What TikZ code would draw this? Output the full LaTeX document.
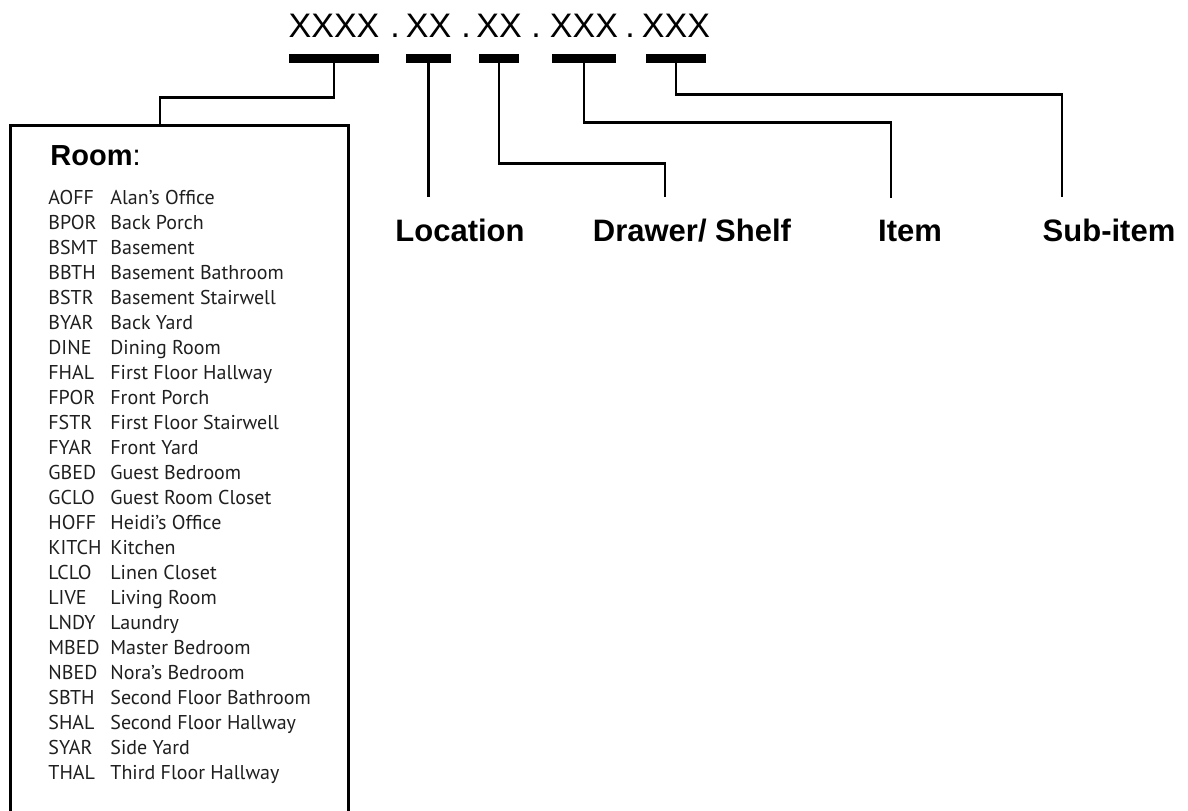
\documentclass[tikz,border=0pt]{standalone}
\usepackage{fontspec}
\setmainfont{PT Sans}
\newfontfamily\heros{Liberation Sans}
\usetikzlibrary{calc}

\begin{document}
\begin{tikzpicture}[x=0.5pt, y=-0.5pt,
  seg/.style={font=\heros\fontsize{17}{20}\selectfont, inner sep=0pt, anchor=base},
  bar/.style={fill=black, inner sep=0pt, minimum height=4.5pt},
  lbl/.style={font=\heros\bfseries\fontsize{15.5}{18}\selectfont, inner sep=0pt, outer ysep=11pt, anchor=base},
  conn/.style={line width=1.3pt},
  roomlist/.style={font=\fontsize{10}{12}\selectfont, text=black!88, inner sep=0pt, anchor=base west}
]
  \useasboundingbox (0,0) rectangle (1188,810);
  \clip (0,0) rectangle (1188,810);

  % code groups and bars
  \node[seg] (xRoom)  at (334,37) {XXXX};
  \node[seg] (dot1)   at (395,37) {.};
  \node[seg] (xLoc)   at (428.5,37) {XX};
  \node[seg] (dot2)   at (466,37) {.};
  \node[seg] (xShelf) at (499,37) {XX};
  \node[seg] (dot3)   at (536,37) {.};
  \node[seg] (xItem)  at (584,37) {XXX};
  \node[seg] (dot4)   at (630,37) {.};
  \node[seg] (xSub)   at (676,37) {XXX};

  \node[bar, minimum width=45pt] (bRoom)  at (334,58.5) {};
  \node[bar, minimum width=22.5pt] (bLoc) at (428.5,58.5) {};
  \node[bar, minimum width=20pt] (bShelf) at (499,58.5) {};
  \node[bar, minimum width=32pt] (bItem)  at (584,58.5) {};
  \node[bar, minimum width=30pt] (bSub)   at (676,58.5) {};

  % room box
  \node[draw, line width=1.3pt, inner sep=0pt, anchor=north west,
        minimum width=169pt, minimum height=360pt] (roomBox) at (9,124) {};
  \node[font=\heros\fontsize{14.5}{17}\selectfont, inner sep=0pt, anchor=base west]
    (roomTitle) at (50,165) {\textbf{Room}:};
  \foreach \code/\room [count=\i from 0] in {
      AOFF/Alan’s Office, BPOR/Back Porch, BSMT/Basement, BBTH/Basement Bathroom,
      BSTR/Basement Stairwell, BYAR/Back Yard, DINE/Dining Room, FHAL/First Floor Hallway,
      FPOR/Front Porch, FSTR/First Floor Stairwell, FYAR/Front Yard, GBED/Guest Bedroom,
      GCLO/Guest Room Closet, HOFF/Heidi’s Office, KITCH/Kitchen, LCLO/Linen Closet,
      LIVE/Living Room, LNDY/Laundry, MBED/Master Bedroom, NBED/Nora’s Bedroom,
      SBTH/Second Floor Bathroom, SHAL/Second Floor Hallway, SYAR/Side Yard,
      THAL/Third Floor Hallway} {
    \node[roomlist] (c\i) at (48,{204+25*\i}) {\code};
    \node[roomlist] (r\i) at (110,{204+25*\i}) {\room};
  }

  % labels
  \node[lbl] (lLoc)   at (460,241) {Location};
  \node[lbl] (lShelf) at (692,241) {Drawer/ Shelf};
  \node[lbl] (lItem)  at (910,241) {Item};
  \node[lbl] (lSub)   at (1109,241) {Sub-item};

  \draw[conn] (bRoom.south) -- ++(0,34) -| ($(roomBox.north west)+(151,0)$);
  \draw[conn] (bLoc.south) -- (bLoc.south |- lLoc.north);
  \draw[conn] (bShelf.south) -- ++(0,100) -| ($(lShelf.north)+(-27,0)$);
  \draw[conn] (bItem.south) -- ++(0,59) -| ($(lItem.north)+(-19,0)$);
  \draw[conn] (bSub.south) -- ++(0,31) -| ($(lSub.north)+(-47,0)$);
\end{tikzpicture}
\end{document}
